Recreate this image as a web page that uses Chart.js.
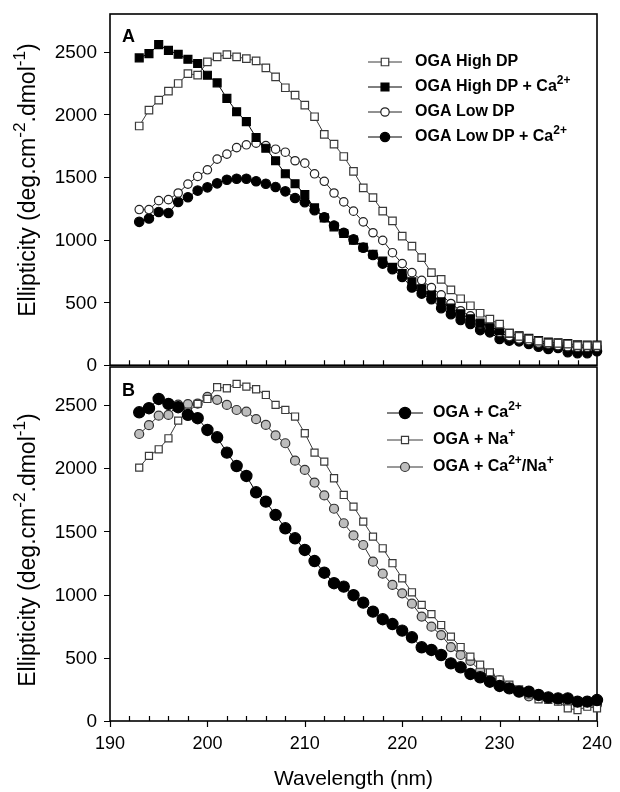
<!DOCTYPE html>
<html>
<head>
<meta charset="utf-8">
<script src="https://cdn.jsdelivr.net/npm/chart.js@4.4.0/dist/chart.umd.min.js"></script>
<style>
  body { margin: 0; background: #fff; }
  #wrap { position: relative; width: 620px; height: 792px; overflow: hidden; }
  canvas { position: absolute; left: 0; }
  #chartA { top: 0; }
  #chartB { top: 360px; }
</style>
</head>
<body>
<div id="wrap">
  <canvas id="chartA" width="620" height="372" style="width:620px;height:372px"></canvas>
  <canvas id="chartB" width="620" height="432" style="width:620px;height:432px"></canvas>
</div>
<script>
// wavelength (nm) of each measured point
const wavelengths = [193, 194, 195, 196, 197, 198, 199, 200, 201, 202, 203, 204, 205, 206, 207, 208,
  209, 210, 211, 212, 213, 214, 215, 216, 217, 218, 219, 220, 221, 222, 223, 224, 225, 226, 227, 228,
  229, 230, 231, 232, 233, 234, 235, 236, 237, 238, 239, 240];

const yTicks = [0, 500, 1000, 1500, 2000, 2500];
const xTicks = [190, 200, 210, 220, 230, 240];

// panel A
const highDP = [1907, 2034, 2114, 2185, 2246, 2325, 2312, 2418, 2458, 2476, 2458, 2444, 2426, 2370, 2299, 2212,
  2153, 2074, 1981, 1841, 1762, 1664, 1545, 1413, 1336, 1228, 1150, 1029, 950, 857, 738, 685, 600, 530, 474, 414,
  368, 328, 255, 230, 209, 192, 178, 175, 169, 156, 156, 156];
const highDPCa = [2450, 2484, 2556, 2510, 2479, 2439, 2405, 2312, 2251, 2127, 2021, 1942, 1815, 1730, 1630, 1526,
  1447, 1360, 1254, 1175, 1103, 1050, 997, 940, 885, 830, 780, 730, 665, 610, 560, 505, 455, 410, 370, 335,
  310, 275, 255, 235, 215, 196, 185, 178, 172, 162, 160, 160];
const lowDP = [1241, 1241, 1312, 1320, 1373, 1444, 1505, 1558, 1643, 1683, 1735, 1757, 1770, 1751, 1722, 1698,
  1630, 1611, 1526, 1466, 1373, 1302, 1228, 1143, 1056, 995, 897, 810, 738, 677, 619, 561, 492, 434, 394, 328,
  315, 262, 228, 209, 196, 177, 169, 156, 148, 143, 143, 143];
const lowDPCa = [1143, 1169, 1222, 1214, 1302, 1339, 1392, 1418, 1450, 1479, 1487, 1487, 1466, 1447, 1421, 1386,
  1333, 1300, 1235, 1180, 1114, 1056, 1003, 937, 878, 810, 765, 704, 619, 571, 526, 455, 407, 360, 328, 280,
  262, 209, 196, 190, 169, 148, 130, 138, 103, 95, 95, 111];

// panel B
const withCa = [2442, 2474, 2547, 2508, 2482, 2421, 2395, 2302, 2244, 2123, 2017, 1938, 1809, 1735, 1630, 1524,
  1445, 1353, 1265, 1173, 1090, 1063, 995, 936, 865, 805, 767, 715, 662, 583, 562, 522, 456, 425, 372, 346,
  311, 277, 258, 232, 232, 206, 187, 179, 179, 153, 153, 166];
const withNa = [2004, 2097, 2149, 2236, 2376, 2447, 2508, 2547, 2640, 2632, 2666, 2645, 2624, 2579, 2500, 2460,
  2408, 2276, 2123, 2052, 1920, 1788, 1696, 1577, 1458, 1366, 1248, 1129, 1018, 918, 845, 759, 667, 585, 509, 445,
  385, 328, 288, 250, 210, 172, 168, 153, 100, 87, 113, 100];
const withCaNa = [2270, 2340, 2415, 2421, 2503, 2506, 2510, 2563, 2540, 2500, 2460, 2447, 2387, 2342, 2259, 2197,
  2059, 1986, 1886, 1784, 1679, 1564, 1468, 1392, 1260, 1165, 1076, 1010, 928, 826, 746, 680, 585, 522, 476, 396,
  357, 321, 275, 232, 195, 205, 175, 163, 149, 142, 137, 130];

const FONT = '"Liberation Sans", Arial, Helvetica, sans-serif';

function points(vals) {
  return wavelengths.map((w, i) => ({ x: w, y: vals[i] }));
}

function series(label, vals, style, radius, fill, stroke) {
  return {
    label: label,
    data: points(vals),
    borderColor: stroke,
    borderWidth: 1,
    pointStyle: style,
    pointRadius: radius,
    pointBackgroundColor: fill,
    pointBorderColor: stroke,
    pointBorderWidth: 1.2,
    clip: false,
    tension: 0
  };
}

// rich text: [text, isSuperscript]
function drawRich(ctx, parts, x, y, size, weight) {
  let cx = x;
  parts.forEach(([t, sup]) => {
    const s = sup ? size * 0.75 : size;
    ctx.font = weight + ' ' + s + 'px ' + FONT;
    ctx.fillText(t, cx, sup ? y - size * 0.4 : y);
    cx += ctx.measureText(t).width;
  });
  return cx - x;
}

function richWidth(ctx, parts, size, weight) {
  let w = 0;
  parts.forEach(([t, sup]) => {
    ctx.font = weight + ' ' + (sup ? size * 0.75 : size) + 'px ' + FONT;
    w += ctx.measureText(t).width;
  });
  return w;
}

const yTitle = [['Ellipticity (deg.cm', false], ['-2', true], ['.dmol', false], ['-1', true], [')', false]];

const panelPlugin = {
  id: 'panel',
  beforeDatasetsDraw(chart, args, opts) {
    const { ctx, chartArea: a, scales: { x, y } } = chart;
    ctx.save();
    ctx.strokeStyle = '#000';
    ctx.lineWidth = 1.6;
    ctx.strokeRect(a.left, a.top, a.right - a.left, a.bottom - a.top);
    ctx.lineWidth = 1.2;
    ctx.beginPath();
    // y ticks, outside
    yTicks.forEach(v => {
      const py = Math.round(y.getPixelForValue(v)) + 0.5;
      ctx.moveTo(a.left - 6, py);
      ctx.lineTo(a.left, py);
    });
    // x minor ticks every 2 nm, inside
    for (let v = 192; v < 240; v += 2) {
      if (v % 10 === 0) continue;
      const px = Math.round(x.getPixelForValue(v)) + 0.5;
      ctx.moveTo(px, a.bottom);
      ctx.lineTo(px, a.bottom - 5);
    }
    // x major ticks, outside
    if (opts.majors) {
      xTicks.forEach(v => {
        const px = Math.round(x.getPixelForValue(v)) + 0.5;
        ctx.moveTo(px, a.bottom);
        ctx.lineTo(px, a.bottom + 6);
      });
    }
    ctx.stroke();

    // y tick labels
    ctx.fillStyle = '#000';
    ctx.font = '19px ' + FONT;
    ctx.textAlign = 'right';
    ctx.textBaseline = 'middle';
    yTicks.forEach(v => {
      ctx.fillText(String(v), a.left - 13, y.getPixelForValue(v) + 1);
    });
    ctx.restore();
  },
  afterDraw(chart, args, opts) {
    const { ctx, chartArea: a } = chart;
    ctx.save();
    ctx.fillStyle = '#000';
    ctx.textBaseline = 'middle';
    // panel letter
    ctx.font = 'bold 18px ' + FONT;
    ctx.fillText(opts.letter, a.left + 12, a.top + opts.letterDy);

    // y title, rotated
    const tw = richWidth(ctx, yTitle, 23, 'normal');
    ctx.save();
    ctx.translate(29, opts.titleY);
    ctx.rotate(-Math.PI / 2);
    ctx.textBaseline = 'middle';
    drawRich(ctx, yTitle, -tw / 2, 0, 23, 'normal');
    ctx.restore();

    // legend
    const L = opts.legend;
    L.rows.forEach((row, i) => {
      const ds = chart.data.datasets[row.index];
      const ly = L.y0 + i * L.dy;
      ctx.strokeStyle = ds.borderColor;
      ctx.lineWidth = 1;
      ctx.beginPath();
      ctx.moveTo(L.x1, ly);
      ctx.lineTo(L.x2, ly);
      ctx.stroke();
      ctx.fillStyle = ds.pointBackgroundColor;
      ctx.strokeStyle = ds.pointBorderColor;
      ctx.lineWidth = ds.pointBorderWidth;
      Chart.helpers.drawPoint(ctx, {
        pointStyle: ds.pointStyle, rotation: 0, radius: ds.pointRadius, borderWidth: ds.pointBorderWidth
      }, (L.x1 + L.x2) / 2, ly);
      ctx.fillStyle = '#000';
      drawRich(ctx, row.text, L.tx, ly, 16, 'bold');
    });
    ctx.restore();
  }
};

function noPad(s) {
  s.paddingTop = 0;
  s.paddingBottom = 0;
  s.paddingLeft = 0;
  s.paddingRight = 0;
}

function makeOptions(isBottom, padTop) {
  return {
    responsive: false,
    animation: false,
    layout: { padding: { top: padTop, right: 23, bottom: isBottom ? 0 : 4, left: 0 } },
    plugins: { legend: { display: false }, tooltip: { enabled: false } },
    scales: {
      x: {
        type: 'linear',
        min: 190,
        max: 240,
        grid: { display: false, drawTicks: false },
        border: { display: false },
        ticks: {
          display: isBottom,
          autoSkip: false,
          maxRotation: 0,
          stepSize: 10,
          padding: 12,
          color: '#000',
          font: { family: FONT, size: 18 }
        },
        title: {
          display: isBottom,
          text: 'Wavelength (nm)',
          color: '#000',
          padding: { top: 0, bottom: 0 },
          font: { family: FONT, size: 21 }
        },
        afterFit: s => { s.height = isBottom ? 71 : 0; noPad(s); }
      },
      y: {
        min: 0,
        max: 2800,
        grid: { display: false, drawTicks: false },
        border: { display: false },
        ticks: { display: false },
        afterFit: s => { s.width = 110; noPad(s); }
      }
    }
  };
}

const optsA = makeOptions(false, 14);
optsA.plugins.panel = {
  letter: 'A', letterDy: 23, titleY: 180, majors: false,
  legend: {
    x1: 368, x2: 402, tx: 415, y0: 62, dy: 25,
    rows: [
      { index: 0, text: [['OGA High DP', false]] },
      { index: 1, text: [['OGA High DP + Ca', false], ['2+', true]] },
      { index: 2, text: [['OGA Low DP', false]] },
      { index: 3, text: [['OGA Low DP + Ca', false], ['2+', true]] }
    ]
  }
};

new Chart(document.getElementById('chartA'), {
  type: 'line',
  data: {
    datasets: [
      series('OGA High DP', highDP, 'rect', 5.3, '#fff', '#3a3a3a'),
      series('OGA High DP + Ca2+', highDPCa, 'rect', 5.6, '#000', '#000'),
      series('OGA Low DP', lowDP, 'circle', 4.2, '#fff', '#222'),
      series('OGA Low DP + Ca2+', lowDPCa, 'circle', 4.7, '#000', '#000')
    ]
  },
  options: optsA,
  plugins: [panelPlugin]
});

const optsB = makeOptions(true, 7);
optsB.plugins.panel = {
  letter: 'B', letterDy: 24, titleY: 550 - 360, majors: true,
  legend: {
    x1: 387, x2: 423, tx: 433, y0: 53, dy: 27,
    rows: [
      { index: 0, text: [['OGA + Ca', false], ['2+', true]] },
      { index: 1, text: [['OGA + Na', false], ['+', true]] },
      { index: 2, text: [['OGA + Ca', false], ['2+', true], ['/Na', false], ['+', true]] }
    ]
  }
};

new Chart(document.getElementById('chartB'), {
  type: 'line',
  data: {
    datasets: [
      series('OGA + Ca2+', withCa, 'circle', 5.6, '#000', '#000'),
      series('OGA + Na+', withNa, 'rect', 5.0, '#fff', '#3a3a3a'),
      series('OGA + Ca2+/Na+', withCaNa, 'circle', 4.5, '#bdbdbd', '#333')
    ]
  },
  options: optsB,
  plugins: [panelPlugin]
});
</script>
</body>
</html>
